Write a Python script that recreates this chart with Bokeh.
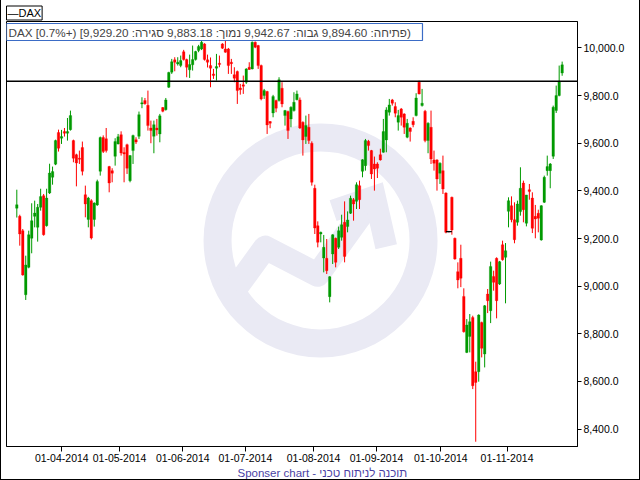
from bokeh.plotting import figure
from bokeh.models import (ColumnDataSource, FixedTicker, NumeralTickFormatter,
                          Span, Label, Range1d, Title)
from bokeh.embed import file_html
from bokeh.resources import INLINE

# ---------------- data ----------------
opens = [9327, 9293, 9233, 8964, 9079, 9201, 9293, 9247, 9331, 9380,
         9254, 9391, 9457, 9512, 9645, 9621, 9649, 9642, 9657, 9611,
         9552, 9537, 9582, 9384, 9280, 9359, 9280, 9341, 9482, 9624,
         9619, 9502, 9485, 9545, 9597, 9636, 9561, 9594, 9443, 9569,
         9615, 9629, 9765, 9779, 9759, 9664, 9629, 9664, 9639, 9750,
         9741, 9835, 9898, 9950, 9933, 9926, 9984, 9951, 9908, 9929,
         9951, 9989, 9996, 10017, 9950, 9926, 9891, 9915, 9936, 10017,
         9996, 9996, 9940, 9888, 9901, 9832, 9845, 9856, 9919, 9912,
         10024, 10010, 9926, 9800, 9817, 9691, 9727, 9779, 9779, 9831,
         9716, 9733, 9702, 9737, 9783, 9782, 9688, 9628, 9667, 9600,
         9411, 9254, 9219, 9118, 9117, 8956, 9135, 9201, 9163, 9205,
         9268, 9250, 9306, 9363, 9356, 9422, 9482, 9506, 9608, 9569,
         9513, 9513, 9552, 9562, 9614, 9730, 9782, 9754, 9688, 9744,
         9723, 9625, 9664, 9692, 9716, 9856, 9758, 9734, 9611, 9667,
         9530, 9530, 9474, 9485, 9391, 9229, 9373, 9201, 9061, 9117,
         8957, 8722, 8789, 8869, 8641, 8641, 8848, 8715, 8967, 8897,
         9041, 9117, 9009, 9174, 9121, 9314, 9338, 9279, 9268, 9313,
         9433, 9264, 9405, 9370, 9293, 9306, 9194, 9352, 9485, 9485,
         9545, 9737, 9800, 9894.60]
highs = [9405, 9300, 9240, 9128, 9233, 9348, 9359, 9345, 9409, 9387,
         9409, 9514, 9502, 9615, 9657, 9656, 9664, 9706, 9737, 9615,
         9556, 9569, 9607, 9422, 9375, 9365, 9352, 9447, 9628, 9633,
         9664, 9505, 9495, 9621, 9639, 9650, 9583, 9598, 9550, 9636,
         9625, 9733, 9793, 9790, 9821, 9695, 9695, 9702, 9723, 9752,
         9790, 9900, 9954, 9961, 9961, 9968, 9992, 9955, 9972, 10010,
         9988, 10013, 10030, 10020, 9972, 9960, 9912, 9975, 9968, 10020,
         10045, 10000, 9954, 9919, 9905, 9849, 9884, 9915, 9940, 10027,
         10027, 10013, 9930, 9828, 9820, 9693, 9803, 9783, 9877, 9856,
         9740, 9737, 9755, 9814, 9821, 9792, 9692, 9716, 9723, 9608,
         9426, 9272, 9229, 9215, 9198, 9042, 9218, 9204, 9250, 9300,
         9356, 9314, 9380, 9370, 9436, 9443, 9533, 9618, 9614, 9572,
         9544, 9520, 9577, 9702, 9751, 9786, 9786, 9772, 9740, 9748,
         9726, 9702, 9667, 9709, 9810, 9863, 9828, 9740, 9688, 9737,
         9569, 9533, 9520, 9548, 9394, 9232, 9376, 9204, 9100, 9174,
         8991, 8862, 8883, 8876, 8683, 8882, 8851, 8921, 8988, 9103,
         9065, 9121, 9106, 9191, 9181, 9373, 9377, 9352, 9359, 9499,
         9443, 9383, 9429, 9394, 9341, 9321, 9340, 9464, 9548, 9517,
         9758, 9842, 9926, 9942.67]
lows = [9288, 9170, 9044, 8942, 9075, 9138, 9247, 9187, 9317, 9212,
        9250, 9387, 9426, 9508, 9565, 9597, 9628, 9611, 9653, 9520,
        9419, 9513, 9465, 9289, 9247, 9196, 9250, 9337, 9464, 9559,
        9561, 9394, 9436, 9506, 9595, 9548, 9436, 9471, 9436, 9513,
        9597, 9618, 9747, 9762, 9653, 9600, 9558, 9632, 9604, 9730,
        9737, 9832, 9891, 9902, 9926, 9919, 9947, 9877, 9874, 9905,
        9947, 9982, 9991, 9947, 9918, 9835, 9870, 9863, 9919, 9996,
        9980, 9891, 9891, 9856, 9765, 9804, 9807, 9849, 9908, 9910,
        9999, 9912, 9780, 9786, 9639, 9663, 9709, 9730, 9775, 9751,
        9674, 9618, 9667, 9733, 9780, 9660, 9548, 9597, 9597, 9422,
        9219, 9163, 9184, 9058, 9051, 8932, 9093, 9079, 9156, 9191,
        9100, 9226, 9303, 9275, 9324, 9324, 9457, 9485, 9569, 9450,
        9401, 9454, 9527, 9560, 9562, 9716, 9758, 9709, 9653, 9674,
        9639, 9621, 9607, 9667, 9713, 9805, 9754, 9604, 9558, 9513,
        9485, 9401, 9429, 9387, 9222, 9226, 9216, 9111, 8991, 8996,
        8805, 8719, 8722, 8568, 8347, 8599, 8701, 8659, 8887, 8845,
        8981, 8865, 9005, 9107, 8928, 9247, 9268, 9180, 9254, 9296,
        9268, 9251, 9363, 9223, 9201, 9226, 9191, 9349, 9464, 9411,
        9534, 9727, 9797, 9883.18]
closes = [9342, 9219, 9047, 9089, 9216, 9275, 9307, 9331, 9376, 9216,
          9370, 9475, 9481, 9611, 9579, 9628, 9642, 9649, 9716, 9537,
          9517, 9533, 9482, 9345, 9370, 9202, 9349, 9439, 9624, 9565,
          9569, 9433, 9474, 9607, 9627, 9559, 9555, 9495, 9548, 9632,
          9605, 9720, 9770, 9766, 9674, 9653, 9678, 9656, 9715, 9734,
          9782, 9897, 9942, 9940, 9940, 9947, 9951, 9919, 9930, 9951,
          9985, 10006, 10024, 9951, 9940, 9915, 9884, 9922, 9930, 9999,
          9982, 9926, 9934, 9873, 9821, 9825, 9839, 9912, 9910, 10024,
          10003, 9926, 9786, 9821, 9677, 9684, 9796, 9747, 9867, 9765,
          9737, 9653, 9751, 9772, 9807, 9664, 9614, 9674, 9611, 9436,
          9244, 9184, 9226, 9163, 9065, 9040, 9216, 9100, 9233, 9258,
          9125, 9278, 9369, 9345, 9426, 9363, 9531, 9611, 9590, 9471,
          9492, 9495, 9530, 9649, 9740, 9761, 9768, 9726, 9716, 9709,
          9667, 9684, 9649, 9678, 9790, 9807, 9768, 9611, 9684, 9534,
          9516, 9450, 9516, 9408, 9226, 9229, 9236, 9114, 9026, 9033,
          8809, 8837, 8851, 8582, 8596, 8879, 8739, 8918, 8939, 9083,
          9016, 8939, 9103, 9111, 9149, 9359, 9279, 9195, 9345, 9411,
          9321, 9383, 9397, 9243, 9282, 9285, 9338, 9457, 9502, 9513,
          9751, 9800, 9860.2, 9929.20]

prev_close = 9860.2
pct_change = "0.7%"
# positions (bar index) of the month-start labels
x_tick_pos = [15.1, 34.5, 55.7, 76.7, 99.6, 120.7, 142.3, 164.5]
x_tick_labels = ["01-04-2014", "01-05-2014", "01-06-2014", "01-07-2014",
                 "01-08-2014", "01-09-2014", "01-10-2014", "01-11-2014"]
y_ticks = [8400, 8600, 8800, 9000, 9200, 9400, 9600, 9800, 10000]

# ---------------- derived ----------------
UP, DOWN, FLAT = "#009a00", "#ff0000", "#000000"
n = len(closes)
idx = list(range(n))
colors = [UP if c > o else (DOWN if c < o else FLAT) for o, c in zip(opens, closes)]
tops = [max(o, c) for o, c in zip(opens, closes)]
bots = [min(o, c) for o, c in zip(opens, closes)]
src = ColumnDataSource(dict(x=idx, o=opens, h=highs, l=lows, c=closes,
                            top=tops, bot=bots, color=colors))
flat = ColumnDataSource(dict(
    x0=[i - 1 for i in idx if colors[i] == FLAT],
    x1=[i + 1 for i in idx if colors[i] == FLAT],
    y=[closes[i] for i in idx if colors[i] == FLAT]))

FONT = "Liberation Sans"

W, H = 640, 480
p = figure(width=W, height=H, output_backend="svg", toolbar_location=None,
           x_range=Range1d(-3.456, 188.15), y_range=Range1d(8327, 10111),
           y_axis_location="right",
           min_border_left=6, min_border_right=63, min_border_top=21,
           min_border_bottom=34)
p.background_fill_color = "white"
p.border_fill_color = None
p.outline_line_color = "black"
p.grid.visible = False
p.styles = {"background-color": "white",
            "box-shadow": "inset 1px 0 0 0 #000, inset -1px 0 0 0 #000, inset 0 -1px 0 0 #000"}

# legend-like box above the frame
p.title.text = "\u2014DAX"
p.title.align = "left"
p.title.text_font = FONT
p.title.text_font_size = "11px"
p.title.text_font_style = "normal"
p.title.text_color = "black"
p.title.border_line_color = "black"
p.title.border_line_width = 1
p.title.background_fill_color = "white"
p.title.standoff = 3
p.title.padding = 1

# ----- faint logo watermark (decoration) -----
fx0, fx1 = p.x_range.start, p.x_range.end
fy0, fy1 = p.y_range.start, p.y_range.end
def frac(fx, fy):
    return fx0 + fx * (fx1 - fx0), fy1 - fy * (fy1 - fy0)
LOGO = "#eaeaf4"
cx, cy = frac(0.550, 0.515)
p.annulus(x=[cx], y=[cy], inner_radius=89, outer_radius=117,
          inner_radius_units="screen", outer_radius_units="screen",
          fill_color=LOGO, line_color=None)
pts = [frac(0.400, 0.630), frac(0.453, 0.532), frac(0.545, 0.596), frac(0.633, 0.432)]
p.line([q[0] for q in pts], [q[1] for q in pts], line_width=24, line_color=LOGO,
       line_join="round", line_cap="butt")
head = [frac(0.572, 0.445), frac(0.645, 0.412), frac(0.665, 0.53)]
p.line([q[0] for q in head], [q[1] for q in head], line_width=22, line_color=LOGO,
       line_join="miter", line_cap="butt")

# ----- candles -----
p.segment(x0="x", y0="l", x1="x", y1="h", line_color="color", line_width=1, source=src)
p.vbar(x="x", width=0.85, top="top", bottom="bot", fill_color="color",
       line_color="color", line_width=0.3, source=src)
p.segment(x0="x0", y0="y", x1="x1", y1="y", line_color="black", line_width=1.2, source=flat)

p.add_layout(Span(location=prev_close, dimension="width", line_color="black", line_width=1.3))

# ----- axes -----
ya = p.yaxis[0]
ya.ticker = FixedTicker(ticks=y_ticks)
ya.formatter = NumeralTickFormatter(format="0,0.0")
ya.major_tick_out = 4
ya.major_tick_in = 0
ya.minor_tick_out = 0
ya.minor_tick_in = 0
ya.major_label_standoff = 2
ya.major_label_text_font = FONT
ya.major_label_text_font_size = "10.5px"
ya.major_label_text_color = "black"
ya.axis_line_color = "black"

xa = p.xaxis[0]
xa.ticker = FixedTicker(ticks=x_tick_pos)
xa.major_label_overrides = {k: v for k, v in zip(x_tick_pos, x_tick_labels)}
xa.major_tick_out = 5
xa.major_tick_in = 0
xa.minor_tick_out = 0
xa.minor_tick_in = 0
xa.major_label_standoff = 2
xa.major_label_text_font = FONT
xa.major_label_text_font_size = "10.5px"
xa.major_label_text_color = "black"
xa.axis_line_color = "black"

# ----- info box inside the frame -----
info = ("DAX \u202b(\u05e4\u05ea\u05d9\u05d7\u05d4: 9,894.60  \u05d2\u05d1\u05d5\u05d4: 9,942.67  "
        "\u05e0\u05de\u05d5\u05da: 9,883.18  \u05e1\u05d2\u05d9\u05e8\u05d4: 9,929.20] (+" + pct_change + "]\u202c")
info_lbl = Label(x=0, y=423, x_units="screen", y_units="screen", text=info,
                 text_font=FONT, text_font_size="11.7px", text_baseline="top",
                 text_align="left", border_line_color="#3b6cc6", border_line_width=1.2,
                 background_fill_color="white", padding=2)
p.add_layout(info_lbl)

# ----- footer -----
footer = Title(text="Sponser chart - \u05ea\u05d5\u05db\u05e0\u05d4 \u05dc\u05e0\u05d9\u05ea\u05d5\u05d7 \u05d8\u05db\u05e0\u05d9",
               align="left", offset=231, text_font=FONT, text_font_size="11.5px",
               text_font_style="normal", text_color="#4b3fa4", standoff=0)
p.add_layout(footer, "below")

open("out.html", "w").write(file_html(p, INLINE))
